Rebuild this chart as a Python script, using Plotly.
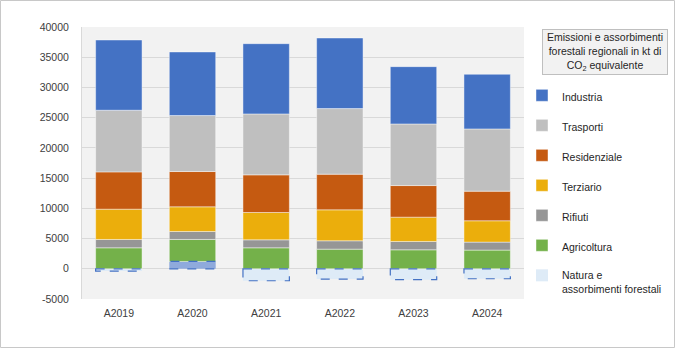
import plotly.graph_objects as go

years = ["A2019", "A2020", "A2021", "A2022", "A2023", "A2024"]
natura = [-380, 1210, -1980, -1700, -1810, -1650]
agricoltura = [3470, 3640, 3470, 3250, 3140, 3090]
rifiuti = [1380, 1320, 1320, 1380, 1380, 1320]
terziario = [5010, 4080, 4520, 5120, 4020, 3530]
residenziale = [6170, 5840, 6230, 5900, 5230, 4900]
trasporti = [10200, 9260, 10080, 10850, 10190, 10300]
industria = [11620, 10520, 11620, 11680, 9480, 9040]

ytick_vals = [-5000, 0, 5000, 10000, 15000, 20000, 25000, 30000, 35000, 40000]
ytick_text = ["-5000", "0", "5000", "10000", "15000", "20000", "25000", "30000", "35000", "40000"]

FONT = "Liberation Sans"
bargap = 0.37
half = (1 - bargap) / 2

fig = go.Figure()

natura_fill = ["#8FAADC" if v > 0 else "#DEEBF7" for v in natura]
fig.add_trace(go.Bar(
    x=years, y=natura, name="Natura e<br>assorbimenti forestali",
    marker=dict(color=natura_fill, line=dict(color="#4472C4", width=0)),
    legendgroup="g7", legendrank=7,
))

series = [
    ("Agricoltura", agricoltura, "#74B14A"),
    ("Rifiuti", rifiuti, "#969696"),
    ("Terziario", terziario, "#EBAE0C"),
    ("Residenziale", residenziale, "#C55A11"),
    ("Trasporti", trasporti, "#BFBFBF"),
    ("Industria", industria, "#4472C4"),
]
for i, (name, vals, col) in enumerate(series):
    fig.add_trace(go.Bar(
        x=years, y=vals, name=name,
        marker=dict(color=col, line=dict(color="rgba(255,255,255,0.55)", width=0.8)),
        legendgroup="g%d" % i, legendrank=6 - i,
    ))

# dashed outlines for the Natura bars, built from the data
for i, v in enumerate(natura):
    fig.add_shape(type="rect", xref="x", yref="y",
                  x0=i - half, x1=i + half, y0=0, y1=v,
                  line=dict(color="#4472C4", width=1.2, dash="dash"),
                  fillcolor="rgba(0,0,0,0)", layer="above")

L, R, T, B = 82, 151, 27, 49
W, H = 675 - L - R, 348 - T - B

# outer border of the chart
fig.add_shape(type="rect", xref="paper", yref="paper",
              x0=(0.5 - L) / W, x1=(674.5 - L) / W,
              y0=1 - (347.5 - T) / H, y1=1 + (T - 0.5) / H,
              line=dict(color="#C8C8C8", width=1), layer="below")

fig.add_annotation(
    xref="paper", yref="paper",
    x=(604.5 - L) / W, y=1 - (28.5 - T) / H,
    xanchor="center", yanchor="top",
    text="Emissioni e assorbimenti<br>forestali regionali in kt di<br>CO<sub>2</sub> equivalente",
    showarrow=False, align="center",
    font=dict(family=FONT, size=10.5, color="#262626"),
    bgcolor="#F2F2F2", bordercolor="#BFBFBF", borderwidth=1,
    width=120, height=40, borderpad=2,
)

fig.update_layout(
    width=675, height=348,
    margin=dict(l=L, r=R, t=T, b=B, autoexpand=False),
    barmode="relative", bargap=bargap,
    paper_bgcolor="white", plot_bgcolor="#F2F2F2",
    font=dict(family=FONT, size=10, color="#404040"),
    showlegend=True,
    legend=dict(
        traceorder="grouped", tracegroupgap=11,
        x=(522 - L) / W, xanchor="left",
        y=1 - (82 - T) / H, yanchor="top",
        font=dict(family=FONT, size=10.5, color="#262626"),
        bgcolor="rgba(0,0,0,0)", valign="top",
    ),
    xaxis=dict(showgrid=False, showline=False, ticks="", tickfont=dict(size=10.5),
               ticklabelstandoff=6),
    yaxis=dict(range=[-5000, 40000], tickvals=ytick_vals, ticktext=ytick_text,
               showgrid=True, gridcolor="#D9D9D9", gridwidth=1,
               zeroline=False, showline=True, linecolor="#D9D9D9",
               ticks="", ticklabelstandoff=10, tickfont=dict(size=10.5)),
)

fig.write_html("out.html")
